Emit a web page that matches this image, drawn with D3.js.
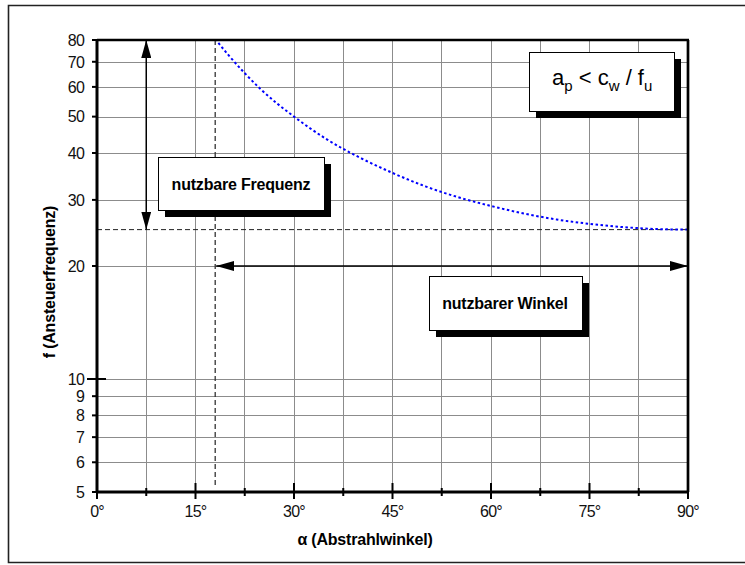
<!DOCTYPE html>
<html><head><meta charset="utf-8">
<script src="https://cdn.jsdelivr.net/npm/d3@7"></script>
<style>
body{margin:0;background:#fff;}
svg{display:block;font-family:"Liberation Sans",Arial,sans-serif;}
</style></head>
<body><svg id="c" width="745" height="565"></svg>
<script>
// ---- data ----
const angles = [18, 20, 25, 30, 35, 40, 45, 50, 55, 60, 65, 70, 75, 80, 85, 90];
const freqs  = [80.5, 73, 59, 50, 43.5, 38.9, 35.4, 32.6, 30.5, 28.9, 27.6, 26.6, 25.9, 25.4, 25.1, 25];
const xMajorTicks = [0, 15, 30, 45, 60, 75, 90];
const xMinorTicks = [7.5, 22.5, 37.5, 52.5, 67.5, 82.5];
const yTicks = [5, 6, 7, 8, 9, 10, 20, 30, 40, 50, 60, 70, 80];
const yGrid = [6, 7, 8, 9, 10, 20, 30, 40, 50, 60, 70];
const xGrid = [7.5, 15, 22.5, 30, 37.5, 45, 52.5, 60, 67.5, 75, 82.5];
const minFreq = 25;      // nutzbare Frequenz limit
const minAngle = 18;     // nutzbarer Winkel limit
const freqArrowAngle = 7.5;
const angleArrowFreq = 20;
const xTitle = "α (Abstrahlwinkel)";
const yTitle = "f (Ansteuerfrequenz)";

// ---- layout ----
const svg = d3.select("#c");
const L = 97, R = 688, T = 40, B = 492;
const x = d3.scaleLinear().domain([0, 90]).range([L, R]);
const y = d3.scaleLog().domain([5, 80]).range([B, T]);

// outer border
svg.append("path").attr("d", `M760,5.5 H8.5 V562.5 H760`).attr("fill","none").attr("stroke","#222").attr("stroke-width",1.6);

// defs
const defs = svg.append("defs");
defs.append("clipPath").attr("id","plotclip").append("rect").attr("x",L).attr("y",T).attr("width",R-L).attr("height",B-T);
defs.append("marker").attr("id","ah").attr("viewBox","0 0 18 10").attr("refX",18).attr("refY",5)
  .attr("markerWidth",18).attr("markerHeight",10).attr("markerUnits","userSpaceOnUse").attr("orient","auto-start-reverse")
  .append("path").attr("d","M0,0 L18,5 L0,10 Z").attr("fill","#000");

// grid
const g = svg.append("g");
g.selectAll(".vg").data(xGrid).join("line").attr("x1",d=>x(d)).attr("x2",d=>x(d)).attr("y1",T).attr("y2",B)
  .attr("stroke","#8c8c8c").attr("stroke-width",1).attr("shape-rendering","crispEdges");
g.selectAll(".hg").data(yGrid).join("line").attr("y1",d=>Math.round(y(d))+0.5).attr("y2",d=>Math.round(y(d))+0.5).attr("x1",L).attr("x2",R)
  .attr("stroke","#8c8c8c").attr("stroke-width",1);

// dashed limit lines
g.append("line").attr("x1",L).attr("x2",R).attr("y1",y(minFreq)).attr("y2",y(minFreq))
  .attr("stroke","#222").attr("stroke-width",1).attr("stroke-dasharray","5,3");
g.append("line").attr("x1",x(minAngle)).attr("x2",x(minAngle)).attr("y1",T).attr("y2",B-4)
  .attr("stroke","#333").attr("stroke-width",1.3).attr("stroke-dasharray","5,3");

// curve
const line = d3.line().x((d,i)=>x(angles[i])).y(d=>y(d)).curve(d3.curveMonotoneX);
g.append("path").datum(freqs).attr("d",line).attr("clip-path","url(#plotclip)")
  .attr("fill","none").attr("stroke","#0000ff").attr("stroke-width",2).attr("stroke-dasharray","2.5,2.5");

// arrows
g.append("line").attr("x1",x(freqArrowAngle)).attr("x2",x(freqArrowAngle)).attr("y1",y(minFreq)).attr("y2",T)
  .attr("stroke","#000").attr("stroke-width",1.5).attr("marker-start","url(#ah)").attr("marker-end","url(#ah)");
g.append("line").attr("x1",x(minAngle)+1).attr("x2",R).attr("y1",y(angleArrowFreq)).attr("y2",y(angleArrowFreq))
  .attr("stroke","#000").attr("stroke-width",1.5).attr("marker-start","url(#ah)").attr("marker-end","url(#ah)");

// frame
svg.append("line").attr("x1",L).attr("x2",R+1).attr("y1",T).attr("y2",T).attr("stroke","#000").attr("stroke-width",2.3);
svg.append("line").attr("x1",R).attr("x2",R).attr("y1",T).attr("y2",B).attr("stroke","#000").attr("stroke-width",2.7);

// axes
const xAxisG = svg.append("g").attr("transform",`translate(0,${B})`);
xAxisG.append("line").attr("x1",L-1).attr("x2",R+1).attr("stroke","#000").attr("stroke-width",3);
xAxisG.selectAll(".mj").data(xMajorTicks).join("line").attr("x1",d=>x(d)).attr("x2",d=>x(d)).attr("y1",-9).attr("y2",7).attr("stroke","#000").attr("stroke-width",2);
xAxisG.selectAll(".mn").data(xMinorTicks).join("line").attr("x1",d=>x(d)).attr("x2",d=>x(d)).attr("y1",-4).attr("y2",4).attr("stroke","#000").attr("stroke-width",2);
xAxisG.selectAll(".tl").data(xMajorTicks).join("text").attr("x",d=>x(d)).attr("y",25).attr("text-anchor","middle")
  .attr("font-size",16).attr("letter-spacing",-0.8).attr("fill","#111").text(d=>d+"°");

const yAxisG = svg.append("g").attr("transform",`translate(${L},0)`);
yAxisG.append("line").attr("y1",T-1).attr("y2",B+1).attr("stroke","#000").attr("stroke-width",3);
yAxisG.selectAll(".yt").data(yTicks).join("line").attr("y1",d=>y(d)).attr("y2",d=>y(d))
  .attr("x1",d=>d===10?-10:-5).attr("x2",d=>d===10?9:0).attr("stroke","#000").attr("stroke-width",2);
yAxisG.selectAll(".yl").data(yTicks).join("text").attr("x",-13).attr("y",d=>y(d)).attr("dy","0.36em").attr("text-anchor","end")
  .attr("font-size",16).attr("letter-spacing",-0.8).attr("fill","#111").text(d=>d);

// axis titles
svg.append("text").attr("x",365).attr("y",545).attr("text-anchor","middle").attr("font-size",16).attr("font-weight","bold").attr("letter-spacing",-0.2).text(xTitle);
svg.append("text").attr("transform","translate(55,282) rotate(-90)").attr("text-anchor","middle").attr("font-size",16).attr("font-weight","bold").attr("letter-spacing",-0.2).text(yTitle);

// boxes
function box(x0,y0,w,h){
  svg.append("rect").attr("x",x0+7).attr("y",y0+7).attr("width",w).attr("height",h).attr("fill","#000");
  svg.append("rect").attr("x",x0+0.5).attr("y",y0+0.5).attr("width",w).attr("height",h).attr("fill","#fff").attr("stroke","#000").attr("stroke-width",1);
}
box(158,157,166,53);
svg.append("text").attr("x",241).attr("y",190).attr("text-anchor","middle").attr("font-size",16).attr("font-weight","bold").attr("letter-spacing",-0.2).text("nutzbare Frequenz");
box(429,276,153,54);
svg.append("text").attr("x",505).attr("y",309).attr("text-anchor","middle").attr("font-size",16).attr("font-weight","bold").attr("letter-spacing",-0.2).text("nutzbarer Winkel");
box(529,52,145,59);
const ft = svg.append("text").attr("x",552).attr("y",85).attr("font-size",22);
ft.append("tspan").text("a");
ft.append("tspan").attr("font-size",15).attr("dy",6).text("p");
ft.append("tspan").attr("dy",-6).text(" < c");
ft.append("tspan").attr("font-size",15).attr("dy",6).text("w");
ft.append("tspan").attr("dy",-6).text(" / f");
ft.append("tspan").attr("font-size",15).attr("dy",6).text("u");
</script></body></html>
